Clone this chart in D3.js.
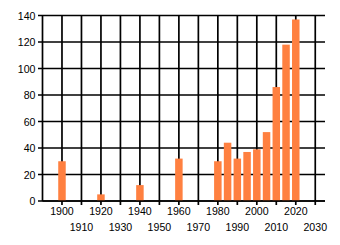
<!DOCTYPE html>
<html>
<head>
<meta charset="utf-8">
<script src="https://cdn.jsdelivr.net/npm/d3@7"></script>
<style>
html,body{margin:0;padding:0;background:#fff;}
svg{display:block;}
text{font-family:"Liberation Sans",Arial,sans-serif;font-size:10.6px;fill:#000;}
</style>
</head>
<body>
<svg id="chart" width="340" height="245"></svg>
<script>
const years = [1900, 1920, 1940, 1960, 1980, 1985, 1990, 1995, 2000, 2005, 2010, 2015, 2020];
const values = [30, 5, 12, 32, 30, 44, 32, 37, 39, 52, 86, 118, 137];
const xTicks = [1900, 1910, 1920, 1930, 1940, 1950, 1960, 1970, 1980, 1990, 2000, 2010, 2020, 2030];
const yTicks = [0, 20, 40, 60, 80, 100, 120, 140];

const svg = d3.select("#chart");
const x = d3.scaleLinear().domain([1890, 2035]).range([42.5, 325]);
const y = d3.scaleLinear().domain([0, 140]).range([201, 15.5]);
const barW = x(1893.85) - x(1890);

// horizontal gridlines + y ticks
svg.append("g").selectAll("line").data(yTicks).join("line")
  .attr("x1", 38).attr("x2", 325)
  .attr("y1", d => y(d)).attr("y2", d => y(d))
  .attr("stroke", "#000").attr("stroke-width", 1.7);

// vertical gridlines + x ticks
svg.append("g").selectAll("line").data(xTicks).join("line")
  .attr("x1", d => x(d)).attr("x2", d => x(d))
  .attr("y1", y(140)).attr("y2", 205)
  .attr("stroke", "#000").attr("stroke-width", 1.7);

// y axis line
svg.append("line").attr("x1", x(1890)).attr("x2", x(1890))
  .attr("y1", y(140)).attr("y2", y(0))
  .attr("stroke", "#000").attr("stroke-width", 1.7);

// bars
svg.append("g").selectAll("rect").data(years).join("rect")
  .attr("x", (d) => x(d) - barW / 2)
  .attr("width", barW)
  .attr("y", (d, i) => y(values[i]))
  .attr("height", (d, i) => y(0) - y(values[i]))
  .attr("fill", "#ff8040");

// x axis line
svg.append("line").attr("x1", x(1890)).attr("x2", 325)
  .attr("y1", y(0)).attr("y2", y(0))
  .attr("stroke", "#000").attr("stroke-width", 1.7);

// y labels
svg.append("g").selectAll("text").data(yTicks).join("text")
  .attr("x", 35.5).attr("y", d => y(d) + 4)
  .attr("text-anchor", "end")
  .text(d => d);

// x labels, staggered
svg.append("g").selectAll("text").data(xTicks).join("text")
  .attr("x", d => x(d))
  .attr("y", (d, i) => i % 2 === 0 ? 215 : 230.5)
  .attr("text-anchor", "middle")
  .text(d => d);
</script>
</body>
</html>
